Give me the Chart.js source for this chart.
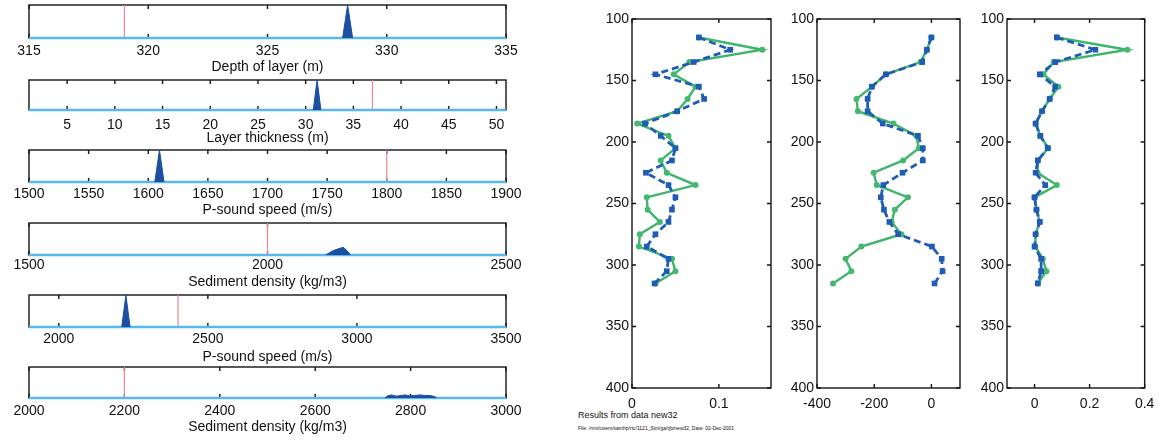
<!DOCTYPE html>
<html><head><meta charset="utf-8">
<script src="https://cdn.jsdelivr.net/npm/chart.js@4.4.0/dist/chart.umd.min.js"></script>
<style>
html,body{margin:0;padding:0;background:#fff;width:1162px;height:443px;overflow:hidden;position:relative;font-family:"Liberation Sans",Arial,sans-serif}
canvas{position:absolute}
.note{position:absolute;color:#111;white-space:nowrap;line-height:1}
</style></head><body>
<div class="note" style="left:578px;top:411px;font-size:9px;">Results from data new32</div>
<div class="note" style="left:578px;top:426px;font-size:5px;">File: /mnt/users/samhp/rtc/1121_Sim/ga/rjb/new32, Date: 02-Dec-2001</div>
<script>
// ---------- Left: marginal distributions ----------
const histTitles = ['Depth of layer (m)', 'Layer thickness (m)', 'P-sound speed (m/s)',
                    'Sediment density (kg/m3)', 'P-sound speed (m/s)', 'Sediment density (kg/m3)'];
const histMin = [315, 1, 1500, 1500, 1900, 2000];
const histMax = [335, 51, 1900, 2500, 3500, 3000];
const histTicks1 = [315, 320, 325, 330, 335];
const histTicks2 = [5, 10, 15, 20, 25, 30, 35, 40, 45, 50];
const histTicks3 = [1500, 1550, 1600, 1650, 1700, 1750, 1800, 1850, 1900];
const histTicks4 = [1500, 2000, 2500];
const histTicks5 = [2000, 2500, 3000, 3500];
const histTicks6 = [2000, 2200, 2400, 2600, 2800, 3000];
const trueValues = [319, 37, 1800, 2000, 2400, 2200];
const hist1X = [328.15, 328.36, 328.57];
const hist1Y = [0, 1, 0];
const hist2X = [30.8, 31.2, 31.6];
const hist2Y = [0, 1, 0];
const hist3X = [1605.5, 1609.4, 1613.2];
const hist3Y = [0, 1, 0];
const hist4X = [2122, 2138, 2152, 2159, 2169, 2174];
const hist4Y = [0, 0.14, 0.21, 0.24, 0.10, 0];
const hist5X = [2211, 2225, 2239];
const hist5Y = [0, 1, 0];
const hist6X = [2746, 2752, 2760, 2770, 2780, 2788, 2798, 2808, 2820, 2830, 2841, 2850, 2855];
const hist6Y = [0, 0.07, 0.10, 0.06, 0.08, 0.10, 0.07, 0.08, 0.10, 0.08, 0.08, 0.05, 0];

// ---------- Right: profiles vs depth ----------
const layerDepths = [115, 125, 135, 145, 155, 165, 175, 185, 195, 205, 215, 225, 235, 245, 255, 265, 275, 285, 295, 305, 315];
const profA_dashed = [0.077, 0.113, 0.071, 0.027, 0.077, 0.083, 0.052, 0.015, 0.033, 0.050, 0.046, 0.016, 0.042, 0.050, 0.046, 0.042, 0.027, 0.017, 0.042, 0.040, 0.026];
const profA_solid  = [0.077, 0.150, 0.066, 0.048, 0.073, 0.064, 0.052, 0.006, 0.042, 0.050, 0.033, 0.040, 0.073, 0.017, 0.018, 0.032, 0.009, 0.008, 0.046, 0.050, 0.027];
const profB_dashed = [0, -16, -32, -159, -208, -223, -223, -170, -47, -30, -30, -101, -168, -177, -166, -147, -116, 2, 36, 39, 11];
const profB_solid  = [0, -16, -38, -159, -208, -262, -257, -133, -53, -44, -99, -202, -191, -82, -128, -139, -105, -245, -300, -280, -344];
const profC_dashed = [0.081, 0.221, 0.075, 0.019, 0.075, 0.055, 0.027, 0.004, 0.021, 0.048, 0.012, 0.004, 0.039, 0.000, 0.007, 0.019, 0.004, 0.000, 0.024, 0.024, 0.012];
const profC_solid  = [0.081, 0.337, 0.070, 0.032, 0.087, 0.055, 0.027, 0.004, 0.021, 0.050, 0.012, 0.011, 0.081, 0.000, 0.007, 0.019, 0.004, 0.003, 0.030, 0.043, 0.012];
const profXMin = [0, -400, -0.1];
const profXMax = [0.16, 100, 0.4];
const profXTicksA = [0, 0.1];
const profXTicksB = [-400, -200, 0];
const profXTicksC = [0, 0.2, 0.4];
const profYTicks = [100, 150, 200, 250, 300, 350, 400];
const profYMin = 100, profYMax = 400;

// ---------- rendering ----------
Chart.defaults.font.family = '"Liberation Sans", Arial, Helvetica, sans-serif';
Chart.defaults.font.size = 14;
Chart.defaults.color = '#111';

const boxPlugin = {
  id: 'boxTicks',
  beforeDatasetsDraw(chart, args, opts) {
    const {ctx, chartArea: a, scales} = chart;
    ctx.save();
    ctx.strokeStyle = '#151515';
    ctx.lineWidth = 1.4;
    ctx.strokeRect(a.left, a.top, a.right - a.left, a.bottom - a.top);
    const L = 4;
    ctx.beginPath();
    scales.x.ticks.forEach(t => {
      const p = scales.x.getPixelForValue(t.value);
      ctx.moveTo(p, a.bottom); ctx.lineTo(p, a.bottom - L);
      ctx.moveTo(p, a.top); ctx.lineTo(p, a.top + L);
    });
    if (opts && opts.yTicks) {
      scales.y.ticks.forEach(t => {
        const p = scales.y.getPixelForValue(t.value);
        ctx.moveTo(a.left, p); ctx.lineTo(a.left + L, p);
        ctx.moveTo(a.right, p); ctx.lineTo(a.right - L, p);
      });
    }
    ctx.stroke();
    ctx.restore();
  }
};

function makeCanvas(left, top, w, h) {
  const c = document.createElement('canvas');
  c.width = w; c.height = h;
  c.style.left = left + 'px'; c.style.top = top + 'px';
  c.style.width = w + 'px'; c.style.height = h + 'px';
  document.body.appendChild(c);
  return c;
}
const pts = (xs, ys) => xs.map((x, i) => ({x, y: ys[i]}));

// left panels geometry: [plotTop, plotBottom, labelCenter, titleCenter]
const leftGeom = [[5, 38, 51, 68], [80, 110, 125, 139], [150, 182, 194, 211],
                  [223, 255, 265, 283], [295, 327, 339, 358], [367, 398, 411, 428]];
const histX = [hist1X, hist2X, hist3X, hist4X, hist5X, hist6X];
const histY = [hist1Y, hist2Y, hist3Y, hist4Y, hist5Y, hist6Y];
const histTicks = [histTicks1, histTicks2, histTicks3, histTicks4, histTicks5, histTicks6];
const PL = 29, PR = 506, CW = 540;

leftGeom.forEach((g, i) => {
  const [pt, pb, lc, tc] = g;
  const ctop = pt - 4;
  const cbot = Math.round(tc + 8.4);
  const c = makeCanvas(0, ctop, CW, cbot - ctop);
  const lo = histMin[i], hi = histMax[i];
  new Chart(c, {
    type: 'scatter',
    data: {
      datasets: [
        { data: pts(histX[i], histY[i]), showLine: true, fill: 'origin',
          backgroundColor: '#1b4f9f', borderColor: '#1b4f9f', borderWidth: 1,
          pointRadius: 0, tension: 0 },
        { data: [{x: lo, y: 0}, {x: hi, y: 0}], showLine: true, fill: false,
          borderColor: '#58b8ec', borderWidth: 2.5, pointRadius: 0, clip: false },
        { data: [{x: trueValues[i], y: 0}, {x: trueValues[i], y: 1}], showLine: true, fill: false,
          borderColor: '#ef8496', borderWidth: 1.2, pointRadius: 0 }
      ]
    },
    options: {
      responsive: false, animation: false, devicePixelRatio: 1, events: [],
      layout: { padding: { left: PL, right: CW - PR, top: 4, bottom: 0 } },
      plugins: { legend: { display: false }, tooltip: { enabled: false }, boxTicks: {} },
      scales: {
        x: {
          type: 'linear', min: lo, max: hi,
          grid: { display: false, drawTicks: false }, border: { display: false },
          afterBuildTicks: s => { s.ticks = histTicks[i].map(v => ({value: v})); },
          afterFit: s => { s.height = cbot - pb; },
          ticks: { padding: lc - pb - 8.4, autoSkip: false, maxRotation: 0, callback: v => String(v), color: '#111' },
          title: { display: true, text: histTitles[i], padding: 0, color: '#111', font: { size: 14 } }
        },
        y: { type: 'linear', display: false, min: 0, max: 1 }
      }
    },
    plugins: [boxPlugin]
  });
});

// right panels
const profDashed = [profA_dashed, profB_dashed, profC_dashed];
const profSolid = [profA_solid, profB_solid, profC_solid];
const profXTicks = [profXTicksA, profXTicksB, profXTicksC];
// [canvasLeft, plotLeft, plotRight, canvasRight]
const rightGeom = [[560, 632, 771, 790], [780, 817, 960, 976], [965, 1007, 1146, 1162]];
const RT = 19, RB = 388, RCH = 420, RLC = 404;

rightGeom.forEach((g, i) => {
  const [cl, pl, pr, cr] = g;
  const c = makeCanvas(cl, 0, cr - cl, RCH);
  new Chart(c, {
    type: 'scatter',
    data: {
      datasets: [
        { data: profDashed[i].map((v, k) => ({x: v, y: layerDepths[k]})), showLine: true,
          borderColor: '#1f5cb6', backgroundColor: '#1f5cb6', borderWidth: 2.8, borderDash: [7, 4],
          pointStyle: 'rect', pointRadius: 4, pointBorderWidth: 0, tension: 0 },
        { data: profSolid[i].map((v, k) => ({x: v, y: layerDepths[k]})), showLine: true,
          borderColor: '#3fb56c', backgroundColor: '#45b870', borderWidth: 2.4,
          pointStyle: 'circle', pointRadius: 3, pointBorderWidth: 0, tension: 0 }
      ]
    },
    options: {
      responsive: false, animation: false, devicePixelRatio: 1, events: [],
      layout: { padding: { left: 0, right: cr - pr, top: RT, bottom: 0 } },
      plugins: { legend: { display: false }, tooltip: { enabled: false }, boxTicks: { yTicks: true } },
      scales: {
        x: {
          type: 'linear', min: profXMin[i], max: profXMax[i],
          grid: { display: false, drawTicks: false }, border: { display: false },
          afterBuildTicks: s => { s.ticks = profXTicks[i].map(v => ({value: v})); },
          afterFit: s => { s.height = RCH - RB; },
          ticks: { padding: RLC - RB - 8.4, autoSkip: false, maxRotation: 0, callback: v => String(v), color: '#111' }
        },
        y: {
          type: 'linear', reverse: true, min: profYMin, max: profYMax,
          grid: { display: false, drawTicks: false }, border: { display: false },
          afterBuildTicks: s => { s.ticks = profYTicks.map(v => ({value: v})); },
          afterFit: s => { s.width = pl - cl; },
          ticks: { padding: 3, autoSkip: false, callback: v => String(v), color: '#111' }
        }
      }
    },
    plugins: [boxPlugin]
  });
});
</script>
</body></html>
